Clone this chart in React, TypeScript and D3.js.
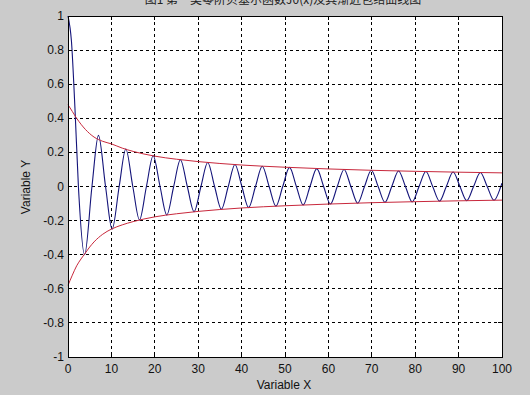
import React from "react";
import * as d3 from "d3";

// --- Values ---
// damped oscillation: start, extrema and zero crossings
const waveX = [
  0, 0.8, 1.6, 2.4, 3.83, 5.52, 7.02, 8.65, 10.17, 11.79, 13.32, 14.93, 16.47,
  18.07, 19.62, 21.21, 22.76, 24.35, 25.9, 27.49, 29.05, 30.63, 32.19, 33.78,
  35.33, 36.92, 38.47, 40.06, 41.62, 43.2, 44.76, 46.34, 47.9, 49.48, 51.04,
  52.62, 54.18, 55.76, 57.32, 58.9, 60.47, 62.04, 63.61, 65.18, 66.75, 68.32,
  69.89, 71.46, 73.03, 74.6, 76.17, 77.75, 79.31, 80.89, 82.46, 84.03, 85.6,
  87.17, 88.74, 90.31, 91.88, 93.45, 95.02, 96.59, 98.16, 99.73, 100,
];
const waveY = [
  1, 0.85, 0.46, 0, -0.4, 0, 0.3, 0, -0.25, 0, 0.22, 0, -0.196, 0, 0.18, 0,
  -0.167, 0, 0.157, 0, -0.148, 0, 0.141, 0, -0.134, 0, 0.129, 0, -0.124, 0,
  0.119, 0, -0.115, 0, 0.112, 0, -0.108, 0, 0.105, 0, -0.103, 0, 0.1, 0,
  -0.098, 0, 0.095, 0, -0.093, 0, 0.091, 0, -0.09, 0, 0.088, 0, -0.086, 0,
  0.085, 0, -0.083, 0, 0.082, 0, -0.081, 0, 0.02,
];

// red envelopes
const envX = [0, 1, 2, 3, 4, 5, 6, 8, 10, 12.5, 15, 20, 25, 30, 35, 40, 50, 60, 70, 80, 90, 100];
const upperY = [
  0.48, 0.44, 0.4, 0.365, 0.335, 0.31, 0.29, 0.265, 0.25, 0.225, 0.206, 0.178,
  0.16, 0.146, 0.135, 0.126, 0.113, 0.103, 0.095, 0.089, 0.084, 0.08,
];
const lowerY = [
  -0.58, -0.52, -0.465, -0.425, -0.39, -0.355, -0.325, -0.28, -0.25, -0.225,
  -0.206, -0.178, -0.16, -0.146, -0.135, -0.126, -0.113, -0.103, -0.095,
  -0.089, -0.084, -0.08,
];

const xTicks = [0, 10, 20, 30, 40, 50, 60, 70, 80, 90, 100];
const yTicks = [-1, -0.8, -0.6, -0.4, -0.2, 0, 0.2, 0.4, 0.6, 0.8, 1];

const title = "图1  第一类零阶贝塞尔函数J0(x)及其渐近包络曲线图";

const W = 530;
const H = 395;
const left = 68;
const right = 502;
const top = 16;
const bottom = 357;

const App: React.FC = () => {
  const x = d3.scaleLinear().domain([0, 100]).range([left, right]);
  const y = d3.scaleLinear().domain([-1, 1]).range([bottom, top]);

  const line = d3
    .line<[number, number]>()
    .x((d) => x(d[0]))
    .y((d) => y(d[1]))
    .curve(d3.curveMonotoneX);

  const wave = line(waveX.map((v, i) => [v, waveY[i]]));
  const upper = line(envX.map((v, i) => [v, upperY[i]]));
  const lower = line(envX.map((v, i) => [v, lowerY[i]]));

  const font = "'Liberation Sans', Arial, sans-serif";

  return (
    <svg
      width={W}
      height={H}
      style={{ position: "absolute", left: 0, top: 0, background: "#cbcbcb" }}
    >
      <text
        x={283}
        y={4}
        textAnchor="middle"
        fontSize={12}
        fill="#222"
        style={{ fontFamily: "'Noto Sans CJK SC', sans-serif" }}
      >
        {title}
      </text>

      <rect x={left} y={top} width={right - left} height={bottom - top} fill="#fff" />

      {/* grid */}
      {xTicks.slice(1, -1).map((t) => (
        <line
          key={"gx" + t}
          x1={x(t)}
          x2={x(t)}
          y1={top}
          y2={bottom}
          stroke="#000"
          strokeDasharray="3,3"
          shapeRendering="crispEdges"
        />
      ))}
      {yTicks.slice(1, -1).map((t) => (
        <line
          key={"gy" + t}
          x1={left}
          x2={right}
          y1={y(t)}
          y2={y(t)}
          stroke="#000"
          strokeDasharray="3,3"
          shapeRendering="crispEdges"
        />
      ))}

      <path d={wave ?? ""} fill="none" stroke="#14147a" strokeWidth={1.1} />
      <path d={upper ?? ""} fill="none" stroke="#c8283c" strokeWidth={1} />
      <path d={lower ?? ""} fill="none" stroke="#c8283c" strokeWidth={1} />

      {/* box + inward ticks */}
      <rect
        x={left}
        y={top}
        width={right - left}
        height={bottom - top}
        fill="none"
        stroke="#000"
        shapeRendering="crispEdges"
      />
      {xTicks.map((t) => (
        <g key={"tx" + t}>
          <line x1={x(t)} x2={x(t)} y1={bottom} y2={bottom - 4} stroke="#000" shapeRendering="crispEdges" />
          <line x1={x(t)} x2={x(t)} y1={top} y2={top + 4} stroke="#000" shapeRendering="crispEdges" />
          <text x={x(t)} y={373} textAnchor="middle" fontSize={12} fill="#111" style={{ fontFamily: font }}>
            {t}
          </text>
        </g>
      ))}
      {yTicks.map((t) => (
        <g key={"ty" + t}>
          <line x1={left} x2={left + 4} y1={y(t)} y2={y(t)} stroke="#000" shapeRendering="crispEdges" />
          <line x1={right} x2={right - 4} y1={y(t)} y2={y(t)} stroke="#000" shapeRendering="crispEdges" />
          <text
            x={64}
            y={y(t) + 4}
            textAnchor="end"
            fontSize={12}
            fill="#111"
            style={{ fontFamily: font }}
          >
            {String(t)}
          </text>
        </g>
      ))}

      <text x={284} y={389} textAnchor="middle" fontSize={12} fill="#111" style={{ fontFamily: font }}>
        Variable X
      </text>
      <text
        transform={`translate(30,187) rotate(-90)`}
        textAnchor="middle"
        fontSize={12}
        fill="#111"
        style={{ fontFamily: font }}
      >
        Variable Y
      </text>
    </svg>
  );
};

export default App;
